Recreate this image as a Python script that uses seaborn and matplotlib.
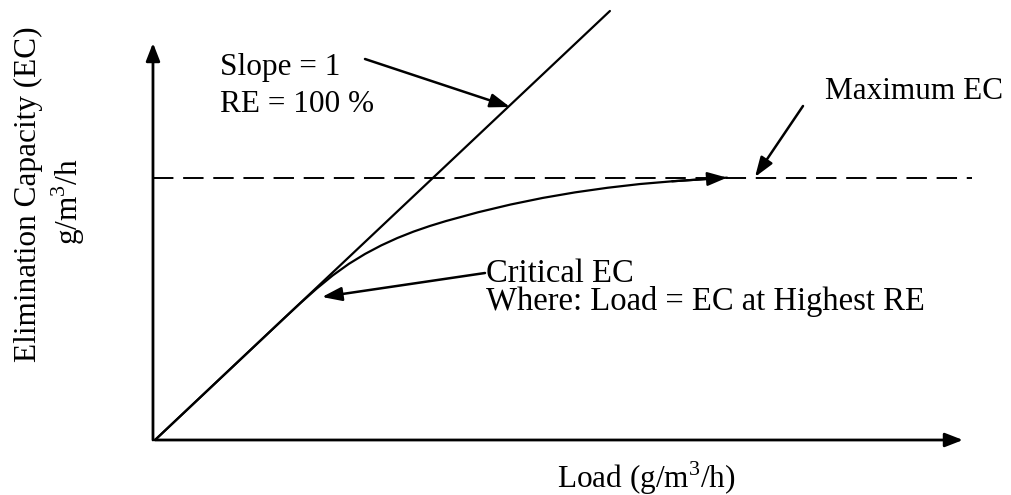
import numpy as np
import pandas as pd
import matplotlib
matplotlib.use("Agg")
import matplotlib.pyplot as plt
import seaborn as sns

# ---- data (schematic values in Load / EC units) ----
line_load = [0.0, 56.3]
line_ec = [0.0, 56.3]

curve_load = [0, 8, 16, 18, 20, 22, 24, 26, 28, 30, 32, 34, 36, 40, 44, 48, 52, 56, 60, 64, 70.8]
curve_ec = [0, 8, 16, 17.97, 19.86, 21.6, 23.12, 24.42, 25.54, 26.51, 27.35, 28.08, 28.73,
            29.89, 30.9, 31.77, 32.5, 33.1, 33.59, 33.95, 34.43]

max_ec = 34.43
dash_load = [-0.25, 101.1]

x_axis_end = 100.0
y_axis_end = 52.1

sns.set_theme(style="white")
plt.rcParams['font.family'] = ['Liberation Serif', 'DejaVu Serif']
plt.rcParams['mathtext.fontset'] = 'custom'
plt.rcParams['mathtext.rm'] = 'Liberation Serif'

W, H = 1011, 495
fig = plt.figure(figsize=(W / 100, H / 100), dpi=100)
ax = fig.add_axes([0, 0, 1, 1])

# pixel mapping: px = 155 + 8.08*x ; py = 440 - 7.62*y
sx, sy = 8.08, 7.62
ax.set_xlim(-155 / sx, (W - 155) / sx)
ax.set_ylim(-(H - 440) / sy, 440 / sy)
ax.axis("off")

lw = 1.6
sns.lineplot(x=line_load, y=line_ec, ax=ax, color="black", lw=lw)
sns.lineplot(x=curve_load, y=curve_ec, ax=ax, color="black", lw=lw, sort=False)
sns.lineplot(x=dash_load, y=[max_ec, max_ec], ax=ax, color="black", lw=1.4,
             linestyle=(0, (10.5, 5)))

head = "-|>,head_length=1.0,head_width=0.35"
# curve arrowhead
ax.annotate("", xy=(curve_load[-1], curve_ec[-1]), xytext=(curve_load[-2], curve_ec[-2]),
            arrowprops=dict(arrowstyle=head, color="black", lw=lw, shrinkA=0, shrinkB=0))

# axes arrows
ax.annotate("", xy=(x_axis_end, 0), xytext=(0, 0),
            arrowprops=dict(arrowstyle="-|>,head_length=0.9,head_width=0.35", color="black",
                            lw=2.0, shrinkA=0, shrinkB=0))
ax.annotate("", xy=(-0.25, y_axis_end), xytext=(-0.25, 0),
            arrowprops=dict(arrowstyle="-|>,head_length=0.9,head_width=0.35", color="black",
                            lw=2.0, shrinkA=0, shrinkB=0))

def d(px, py):
    return ((px - 155) / sx, (440 - py) / sy)

arrow_kw = dict(arrowstyle=head, color="black", lw=1.8, shrinkA=0, shrinkB=0)
ax.annotate("", xy=d(510, 107), xytext=d(365, 59), arrowprops=arrow_kw)
ax.annotate("", xy=d(322, 297), xytext=d(485, 273), arrowprops=arrow_kw)
ax.annotate("", xy=d(755, 177), xytext=d(803, 106), arrowprops=arrow_kw)

fs = 22.5
def t(px, py, s, size=fs, **kw):
    fig.text(px / W, 1 - py / H, s, fontsize=size, color="black", **kw)

t(220, 75, "Slope = 1", ha="left", va="baseline")
t(220, 112, "RE = 100 %", ha="left", va="baseline")
t(825, 99, "Maximum EC", ha="left", va="baseline")
t(486, 317, "Critical EC\nWhere: Load = EC at Highest RE", size=23.5,
  ha="left", va="bottom", linespacing=0.86)
t(557, 488, r"Load (g/m$^{\mathrm{3}}$/h)", ha="left", va="baseline")
t(28, 194, "Elimination Capacity (EC)", ha="center", va="center", rotation=90)
t(68, 202, r"g/m$^{\mathrm{3}}$/h", ha="center", va="center", rotation=90)

fig.savefig("out.png", dpi=100)
